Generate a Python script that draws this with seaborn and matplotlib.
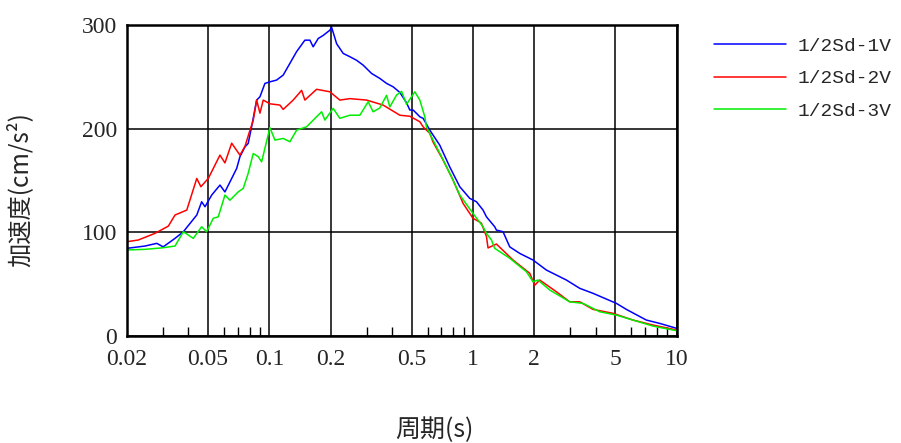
import numpy as np
import pandas as pd
import matplotlib
matplotlib.use("Agg")
import matplotlib.pyplot as plt
import seaborn as sns
from matplotlib.ticker import FixedLocator, NullFormatter

# period (s) vs acceleration (cm/s2)
period_1v = [0.02, 0.0245, 0.028, 0.0301, 0.0344, 0.0378, 0.0408, 0.044, 0.0465, 0.0483,
             0.0521, 0.0572, 0.0605, 0.0653, 0.0691, 0.0717, 0.0759, 0.0787, 0.0818, 0.0866,
             0.0899, 0.0951, 0.1006, 0.1085, 0.1169, 0.1261, 0.1361, 0.1494, 0.1581, 0.1641,
             0.1737, 0.1838, 0.1982, 0.202, 0.2139, 0.2304, 0.2486, 0.268, 0.2888, 0.3175,
             0.3486, 0.3762, 0.4053, 0.4372, 0.4715, 0.4895, 0.508, 0.5279, 0.548, 0.5688,
             0.6136, 0.687, 0.7692, 0.861, 0.9638, 1.04, 1.12, 1.164, 1.278, 1.303,
             1.404, 1.515, 1.696, 1.971, 2.294, 2.874, 3.342, 3.882, 5.058, 5.662,
             7.096, 8.246, 10.0]
accel_1v = [84.6, 86.8, 89.4, 86.0, 94.2, 100.6, 108.7, 116.7, 129.5, 124.7,
            136.0, 145.6, 139.0, 152.0, 161.7, 173.0, 182.5, 185.8, 201.8, 227.6,
            230.8, 243.7, 245.2, 246.9, 251.7, 263.0, 274.4, 285.4, 285.4, 279.0,
            287.0, 290.0, 295.0, 298.0, 282.0, 272.6, 269.4, 266.0, 261.3, 253.3,
            248.5, 243.7, 240.4, 235.0, 225.0, 218.0, 218.0, 214.8, 211.5, 210.0,
            198.6, 184.0, 163.0, 144.0, 132.8, 129.5, 121.5, 115.0, 105.4, 102.2,
            100.6, 86.0, 79.7, 73.3, 63.6, 54.0, 46.0, 41.2, 31.5, 25.7,
            15.4, 12.2, 7.4]

period_2v = [0.02, 0.0227, 0.0274, 0.0319, 0.0344, 0.0393, 0.044, 0.0461, 0.0501, 0.0572,
             0.0605, 0.0653, 0.0717, 0.0759, 0.0803, 0.0833, 0.0866, 0.0899, 0.0933, 0.1006,
             0.1126, 0.1169, 0.1309, 0.144, 0.1494, 0.1705, 0.1982, 0.2218, 0.2486, 0.3002,
             0.3618, 0.4372, 0.4895, 0.548, 0.5688, 0.6136, 0.6368, 0.713, 0.7983, 0.8936,
             1.0, 1.079, 1.1, 1.164, 1.185, 1.303, 1.572, 1.899, 2.01, 2.126,
             2.566, 2.984, 3.342, 3.882, 4.868, 6.1, 7.646, 10.0]
accel_2v = [91.0, 92.6, 99.0, 106.0, 116.7, 121.5, 152.0, 144.0, 152.0, 174.5,
            167.0, 186.0, 174.5, 183.0, 198.6, 208.0, 227.6, 215.0, 227.6, 224.0,
            222.8, 218.6, 227.6, 237.0, 227.6, 238.0, 235.6, 227.6, 229.0, 227.6,
            222.8, 213.0, 212.0, 206.7, 201.8, 195.5, 187.0, 169.7, 150.4, 128.0,
            113.5, 110.0, 108.7, 96.0, 85.0, 88.7, 73.3, 60.5, 49.0, 54.0,
            42.7, 33.0, 33.0, 25.7, 21.9, 15.4, 10.6, 5.8]

period_3v = [0.02, 0.0245, 0.0296, 0.0344, 0.0378, 0.04, 0.0423, 0.0465, 0.0492, 0.053,
             0.0561, 0.0605, 0.064, 0.0703, 0.0744, 0.0787, 0.0833, 0.0882, 0.0916, 0.1006,
             0.1065, 0.1169, 0.1261, 0.1361, 0.1523, 0.1705, 0.1805, 0.1873, 0.2057, 0.2218,
             0.2486, 0.2782, 0.3056, 0.3232, 0.3486, 0.3762, 0.3904, 0.4211, 0.4457, 0.4715,
             0.5178, 0.548, 0.5798, 0.591, 0.6254, 0.7004, 0.784, 0.861, 1.0, 1.12,
             1.164, 1.232, 1.278, 1.515, 1.829, 1.971, 2.086, 2.38, 2.984, 3.468,
             4.188, 5.058, 6.1, 7.646, 10.0]
accel_3v = [83.0, 83.6, 85.0, 86.8, 100.6, 97.4, 94.2, 105.4, 100.6, 113.5,
            115.0, 136.0, 131.0, 139.0, 142.4, 157.0, 176.0, 173.0, 168.0, 201.0,
            189.0, 190.6, 187.4, 198.6, 201.8, 211.5, 216.3, 208.3, 219.6, 210.0,
            213.0, 213.0, 226.0, 216.3, 220.0, 232.2, 221.0, 232.4, 236.0, 223.5,
            235.6, 227.6, 211.5, 201.8, 192.0, 173.0, 153.6, 136.0, 118.3, 105.4,
            99.0, 92.6, 84.6, 75.0, 62.0, 52.4, 54.0, 44.4, 33.0, 31.5,
            23.4, 20.2, 15.4, 9.6, 5.1]

series_names = ["1/2Sd-1V", "1/2Sd-2V", "1/2Sd-3V"]
series_colors = ["#0000ff", "#ff0000", "#00ee00"]

x_ticks = [0.02, 0.05, 0.1, 0.2, 0.5, 1, 2, 5, 10]
x_ticklabels = ["0.02", "0.05", "0.1", "0.2", "0.5", "1", "2", "5", "10"]
x_minor = [0.03, 0.04, 0.06, 0.07, 0.08, 0.09, 0.3, 0.4, 0.6, 0.7, 0.8, 0.9,
           3, 4, 6, 7, 8, 9]
y_ticks = [0, 100, 200, 300]

df = pd.concat([
    pd.DataFrame({"period": p, "accel": a, "case": n})
    for p, a, n in zip([period_1v, period_2v, period_3v],
                       [accel_1v, accel_2v, accel_3v], series_names)
])

sns.set_style("white")
plt.rcParams["font.family"] = ["Liberation Serif", "Noto Sans CJK JP", "DejaVu Sans"]

fig = plt.figure(figsize=(9.01, 4.43), dpi=100)
ax = fig.add_axes([0.141, 0.2415, 0.61, 0.702])

sns.lineplot(data=df, x="period", y="accel", hue="case", hue_order=series_names,
             palette=series_colors, estimator=None, sort=True, linewidth=1.1, ax=ax)

ax.set_xscale("log")
ax.set_xlim(0.02, 10)
ax.set_ylim(0, 300)

ax.xaxis.set_major_locator(FixedLocator(x_ticks))
ax.set_xticklabels(x_ticklabels)
ax.xaxis.set_minor_locator(FixedLocator(x_minor))
ax.xaxis.set_minor_formatter(NullFormatter())
ax.set_yticks(y_ticks)

ax.grid(True, which="major", color="black", linewidth=1.1)
ax.set_axisbelow(True)
for s in ax.spines.values():
    s.set_color("black")
    s.set_linewidth(1.8)

ax.tick_params(axis="both", which="major", length=0, labelsize=17, pad=7)
ax.tick_params(axis="x", which="major", pad=9)
ax.tick_params(axis="x", which="minor", direction="in", length=6.5, width=1.0,
               color="black", bottom=True, top=False)

cjk = ["Noto Sans CJK JP", "DejaVu Sans"]
ax.set_xlabel("周期(s)", fontsize=18, family=cjk)
ax.set_ylabel("加速度(cm/s²)", fontsize=17.5, family=cjk)
ax.xaxis.set_label_coords(0.56, -0.26)
ax.yaxis.set_label_coords(-0.17, 0.47)

handles, labels = ax.get_legend_handles_labels()
ax.legend_.remove()
fig.legend(handles, labels, loc="upper left", bbox_to_anchor=(0.793, 0.915),
           frameon=False, borderpad=0, borderaxespad=0, handlelength=3.7,
           handletextpad=0.55, labelspacing=0.75,
           prop={"family": ["Liberation Mono", "DejaVu Sans Mono"], "size": 14})

fig.savefig("out.png", dpi=100)
